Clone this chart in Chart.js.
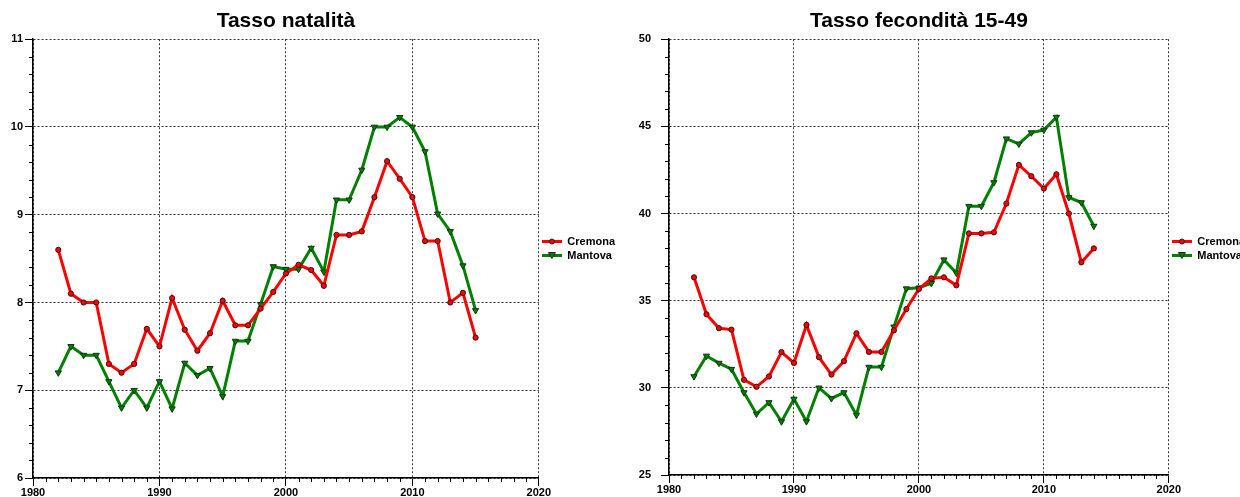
<!DOCTYPE html>
<html>
<head>
<meta charset="utf-8">
<script src="https://cdn.jsdelivr.net/npm/chart.js@4.4.1/dist/chart.umd.min.js"></script>
<style>
  body { margin: 0; overflow: hidden; background: #fff; }
  .box { position: absolute; top: 0; height: 497px; }
</style>
</head>
<body>
<div class="box" style="left:0; width:625px"><canvas id="natalita"></canvas></div>
<div class="box" style="left:620px; width:635px"><canvas id="fecondita"></canvas></div>
<script>

// dati
const anniNatalita = [1982, 1983, 1984, 1985, 1986, 1987, 1988, 1989, 1990, 1991, 1992, 1993, 1994, 1995, 1996, 1997, 1998, 1999, 2000, 2001, 2002, 2003, 2004, 2005, 2006, 2007, 2008, 2009, 2010, 2011, 2012, 2013, 2014, 2015];
const natalitaCremona = [8.6, 8.1, 8.0, 8.0, 7.3, 7.2, 7.3, 7.7, 7.5, 8.05, 7.69, 7.45, 7.65, 8.02, 7.74, 7.74, 7.93, 8.12, 8.33, 8.43, 8.37, 8.19, 8.77, 8.77, 8.81, 9.2, 9.61, 9.41, 9.2, 8.7, 8.7, 8.0, 8.11, 7.6];
const natalitaMantova = [7.2, 7.5, 7.4, 7.4, 7.1, 6.8, 7.0, 6.8, 7.1, 6.79, 7.31, 7.17, 7.25, 6.93, 7.56, 7.56, 7.98, 8.41, 8.38, 8.38, 8.62, 8.35, 9.17, 9.17, 9.51, 10.0, 10.0, 10.11, 10.0, 9.72, 9.01, 8.81, 8.42, 7.91];

const anniFecondita = [1982, 1983, 1984, 1985, 1986, 1987, 1988, 1989, 1990, 1991, 1992, 1993, 1994, 1995, 1996, 1997, 1998, 1999, 2000, 2001, 2002, 2003, 2004, 2005, 2006, 2007, 2008, 2009, 2010, 2011, 2012, 2013, 2014];
const fecunditaCremona = [36.34, 34.22, 33.42, 33.34, 30.46, 30.06, 30.65, 32.05, 31.43, 33.61, 31.76, 30.76, 31.53, 33.13, 32.06, 32.06, 33.3, 34.52, 35.67, 36.28, 36.34, 35.88, 38.86, 38.86, 38.92, 40.57, 42.79, 42.14, 41.43, 42.25, 40.0, 37.2, 38.0];
const fecunditaMantova = [30.65, 31.83, 31.42, 31.07, 29.73, 28.50, 29.16, 28.06, 29.36, 28.07, 30.0, 29.39, 29.73, 28.44, 31.19, 31.19, 33.5, 35.69, 35.74, 36.0, 37.35, 36.59, 40.42, 40.42, 41.78, 44.29, 43.99, 44.64, 44.79, 45.53, 40.92, 40.63, 39.28];

const nomiSerie = ['Cremona', 'Mantova'];
const coloriSerie = ['#ff0000', '#008000'];

const fontTick = { family: 'Liberation Sans', size: 11, weight: 'bold' };

// piccola icona per la legenda: linea + marcatore
function iconaLegenda(colore, triangolo){
    const c = document.createElement('canvas');
    c.width = 20;
    c.height = 9;
    const g = c.getContext('2d');
    g.strokeStyle = colore;
    g.lineWidth = 3;
    g.beginPath();
    g.moveTo(0, 4.5);
    g.lineTo(20, 4.5);
    g.stroke();
    g.fillStyle = colore;
    g.strokeStyle = '#222';
    g.lineWidth = 1;
    g.beginPath();
    if(triangolo){
        g.moveTo(6.5, 1.5);
        g.lineTo(13.5, 1.5);
        g.lineTo(10, 7.5);
        g.closePath();
    } else {
        g.arc(10, 4.5, 2.5, 0, Math.PI * 2);
    }
    g.fill();
    g.stroke();
    return c;
}

const icone = [iconaLegenda(coloriSerie[0], false), iconaLegenda(coloriSerie[1], true)];

function punti(anni, valori){
    return anni.map((a, i) => ({ x: a, y: valori[i] }));
}

function isMaggiore(v, passo){
    return Math.abs(v / passo - Math.round(v / passo)) < 1e-6;
}

// tacche corte sui valori intermedi degli assi
const tacchetteMinori = {
    id: 'tacchetteMinori',
    afterDraw(chart, args, opts){
        const g = chart.ctx;
        const sx = chart.scales.x;
        const sy = chart.scales.y;
        g.save();
        g.strokeStyle = '#000';
        g.lineWidth = 1;
        g.beginPath();
        sx.ticks.forEach(t => {
            if(isMaggiore(t.value, opts.passoX)) return;
            const px = Math.round(sx.getPixelForValue(t.value)) + 0.5;
            g.moveTo(px, sx.top);
            g.lineTo(px, sx.top + 4);
        });
        sy.ticks.forEach(t => {
            if(isMaggiore(t.value, opts.passoY)) return;
            const py = Math.round(sy.getPixelForValue(t.value)) + 0.5;
            g.moveTo(sy.right - 4, py);
            g.lineTo(sy.right, py);
        });
        g.stroke();
        g.restore();
    }
};

function creaGrafico(id, titolo, anni, serieA, serieB, yMin, yMax, yPasso, yMaggiore, larghezzaY, altezzaX, spazioY){

    const ctx = document.getElementById(id);

    new Chart(ctx, {
        type: 'line',
        plugins: [tacchetteMinori],
        data: {
            datasets: [{
                label: nomiSerie[0],
                data: punti(anni, serieA),
                borderColor: coloriSerie[0],
                backgroundColor: coloriSerie[0],
                borderWidth: 3,
                pointStyle: 'circle',
                pointRadius: 2.6,
                pointBackgroundColor: coloriSerie[0],
                pointBorderColor: '#331111',
                pointBorderWidth: 1,
                tension: 0
            }, {
                label: nomiSerie[1],
                data: punti(anni, serieB),
                borderColor: coloriSerie[1],
                backgroundColor: coloriSerie[1],
                borderWidth: 3,
                pointStyle: 'triangle',
                pointRotation: 180,
                pointRadius: 3.6,
                pointBackgroundColor: coloriSerie[1],
                pointBorderColor: '#113311',
                pointBorderWidth: 1,
                tension: 0
            }]
        },
        options: {
            responsive: true,
            maintainAspectRatio: false,
            animation: false,
            layout: { padding: 0 },
            plugins: {
                tacchetteMinori: { passoX: 10, passoY: yMaggiore },
                title: {
                    display: true,
                    text: titolo,
                    fullSize: false,
                    color: '#000',
                    font: { family: 'Liberation Sans', size: 21, weight: 'bold', lineHeight: 1.2 },
                    padding: { top: 9, bottom: 5 }
                },
                legend: {
                    position: 'right',
                    align: 'center',
                    labels: {
                        color: '#000',
                        font: { family: 'Liberation Sans', size: 11, weight: 'bold' },
                        usePointStyle: true,
                        pointStyleWidth: 20,
                        boxHeight: 9,
                        padding: 3,
                        generateLabels: function(chart){
                            const items = Chart.defaults.plugins.legend.labels.generateLabels(chart);
                            items.forEach((it, i) => {
                                it.pointStyle = icone[i];
                                it.rotation = 0;
                            });
                            return items;
                        }
                    }
                },
                tooltip: { enabled: false }
            },
            scales: {
                x: {
                    type: 'linear',
                    min: 1980,
                    max: 2020,
                    afterFit: function(scale){ scale.height = altezzaX; },
                    ticks: {
                        stepSize: 1,
                        autoSkip: false,
                        maxRotation: 0,
                        padding: 0,
                        color: '#000',
                        font: fontTick,
                        callback: v => (v % 10 === 0 ? String(v) : '')
                    },
                    grid: {
                        color: c => (c.tick && c.tick.value % 10 === 0 ? '#333' : 'rgba(0,0,0,0)'),
                        tickColor: c => (c.tick && c.tick.value % 10 === 0 ? '#000' : 'rgba(0,0,0,0)'),
                        tickLength: 8,
                        tickBorderDash: [],
                        lineWidth: 1
                    },
                    border: { color: '#000', width: 1.5, dash: [2, 2] }
                },
                y: {
                    min: yMin,
                    max: yMax,
                    afterFit: function(scale){ scale.width = larghezzaY; },
                    ticks: {
                        stepSize: yPasso,
                        autoSkip: false,
                        padding: spazioY,
                        color: '#000',
                        font: fontTick,
                        callback: v => (isMaggiore(v, yMaggiore) ? String(Math.round(v)) : '')
                    },
                    grid: {
                        color: c => (c.tick && isMaggiore(c.tick.value, yMaggiore) ? '#333' : 'rgba(0,0,0,0)'),
                        tickColor: c => (c.tick && isMaggiore(c.tick.value, yMaggiore) ? '#000' : 'rgba(0,0,0,0)'),
                        tickLength: 8,
                        tickBorderDash: [],
                        lineWidth: 1
                    },
                    border: { color: '#000', width: 1.5, dash: [2, 2] }
                }
            }
        }
    });
}

creaGrafico('natalita', 'Tasso natalità', anniNatalita, natalitaCremona, natalitaMantova, 6, 11, 0.2, 1, 33, 19, 2);
creaGrafico('fecondita', 'Tasso fecondità 15-49', anniFecondita, fecunditaCremona, fecunditaMantova, 25, 50, 1, 5, 49, 22, 10);

</script>
</body>
</html>
